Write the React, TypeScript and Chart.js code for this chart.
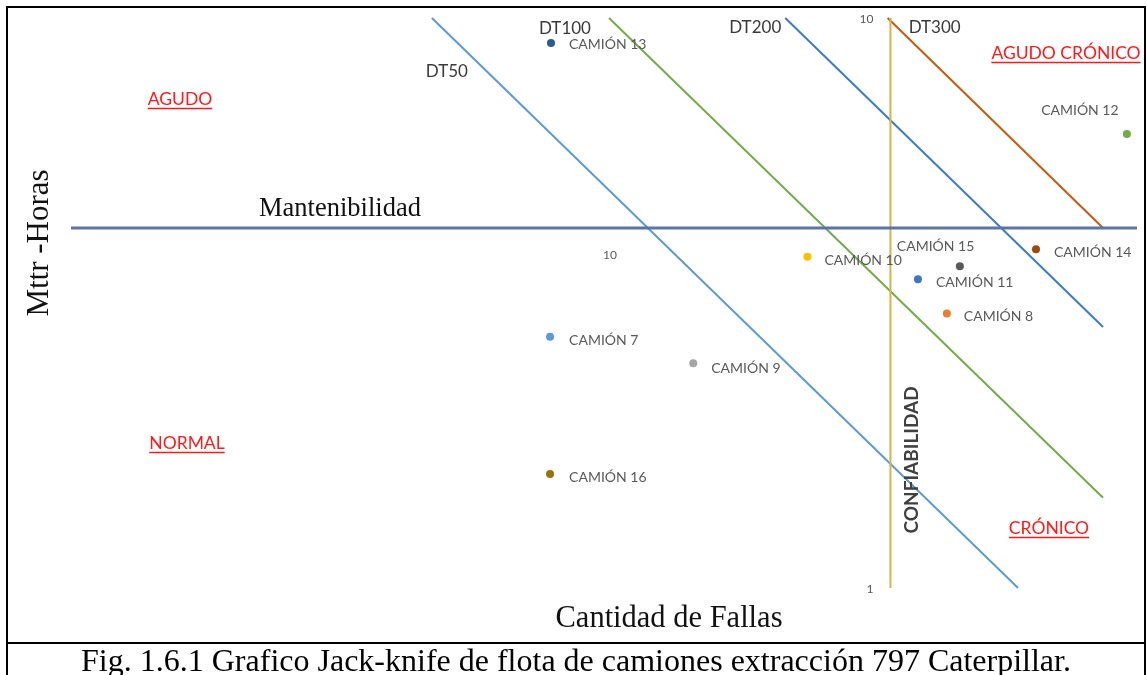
import React, { useEffect, useRef } from "react";
import { Chart, registerables } from "chart.js";

Chart.register(...registerables);

// ---------------- DATA ----------------
const trucks = ["CAMIÓN 13", "CAMIÓN 12", "CAMIÓN 10", "CAMIÓN 15", "CAMIÓN 11", "CAMIÓN 8", "CAMIÓN 14", "CAMIÓN 7", "CAMIÓN 9", "CAMIÓN 16"];
const failures = [7.88, 80.7, 22.2, 41.1, 34.7, 39.0, 55.9, 7.85, 14.0, 7.85];
const mttrHours = [9.04, 6.26, 3.81, 3.67, 3.48, 3.03, 3.93, 2.76, 2.48, 1.585];

const dtNames = ["DT50", "DT100", "DT200", "DT300"];
const dtStartX = [4.87, 9.96, 20.3, 30.7];
const dtStartY = [10, 10, 10, 10];
const dtEndX = [52.0, 73.3, 73.3, 73.3];
const dtEndY = [1.0, 1.44, 2.87, 4.28];

const mantenibilidadLimit = 4.28; // MTTR threshold (h)
const confiabilidadLimit = 31.05; // failures threshold

const yTicks = [10, 1];
const xTicks = [10];

const X_MIN = 1.1334;
const X_MAX = 84.07;
const Y_MIN = 1;
const Y_MAX = 10;

// ---------------- STYLES ----------------
const truckColors = ["#255e91", "#70ad47", "#ffc000", "#595959", "#4472c4", "#ed7d31", "#9e480e", "#5b9bd5", "#a5a5a5", "#997300"];
const dtColors = ["#5b9bd5", "#70ad47", "#3a7cc8", "#c55a11"];
// label offsets from point (px) and alignment
const labelDx = [18, -47, 17, -63, 18, 17, 18, 19, 18, 19];
const labelDy = [2, -23, 4, -20, 3, 3, 3, 4, 5, 4];
const labelAlign: CanvasTextAlign[] = ["left", "center", "left", "left", "left", "left", "left", "left", "left", "left"];
const dtLabelDx = [15, -44, -30, 47];
const dtLabelDy = [54, 11, 10, 10];

const SANS = "Lato, 'Open Sans', sans-serif";
const SERIF = "'Liberation Serif', 'Times New Roman', serif";
const RED = "#ff1a1a";

type FreeText = {
  text: string; x: number; y: number; font: string; color: string;
  align?: CanvasTextAlign; baseline?: CanvasTextBaseline; rotate?: number; underline?: boolean;
};
const freeTexts: FreeText[] = [
  { text: "AGUDO", x: 180, y: 99, font: `17.5px ${SANS}`, color: RED, align: "center", underline: true },
  { text: "AGUDO CRÓNICO", x: 1066, y: 53, font: `17.5px ${SANS}`, color: RED, align: "center", underline: true },
  { text: "NORMAL", x: 187, y: 443, font: `17.5px ${SANS}`, color: RED, align: "center", underline: true },
  { text: "CRÓNICO", x: 1049, y: 528, font: `17.5px ${SANS}`, color: RED, align: "center", underline: true },
  { text: "Mantenibilidad", x: 340, y: 216, font: `26.5px ${SERIF}`, color: "#111", align: "center", baseline: "alphabetic" },
  { text: "Cantidad de Fallas", x: 669, y: 627, font: `30.5px ${SERIF}`, color: "#111", align: "center", baseline: "alphabetic" },
  { text: "Mttr -Horas", x: 48, y: 243, font: `31px ${SERIF}`, color: "#111", align: "center", baseline: "alphabetic", rotate: -Math.PI / 2 },
  { text: "CONFIABILIDAD", x: 912, y: 460, font: `bold 19px ${SANS}`, color: "#404040", align: "center", rotate: -Math.PI / 2 },
];

const textPlugin = {
  id: "jkTexts",
  afterDatasetsDraw(chart: any) {
    const ctx: CanvasRenderingContext2D = chart.ctx;
    const xs = chart.scales.x;
    const ys = chart.scales.y;
    ctx.save();
    ctx.textBaseline = "middle";

    // truck labels
    ctx.font = `14px ${SANS}`;
    ctx.fillStyle = "#595959";
    trucks.forEach((t, i) => {
      const px = xs.getPixelForValue(failures[i]);
      const py = ys.getPixelForValue(mttrHours[i]);
      ctx.textAlign = labelAlign[i];
      ctx.fillText(t, px + labelDx[i], py + labelDy[i]);
    });

    // DT labels
    ctx.font = `17px ${SANS}`;
    ctx.fillStyle = "#3a3a3a";
    ctx.textAlign = "center";
    dtNames.forEach((n, i) => {
      const px = xs.getPixelForValue(dtStartX[i]);
      const py = ys.getPixelForValue(dtStartY[i]);
      ctx.fillText(n, px + dtLabelDx[i], py + dtLabelDy[i]);
    });

    // tick labels on the crossing axes
    ctx.font = `12px ${SANS}`;
    ctx.fillStyle = "#595959";
    ctx.textAlign = "right";
    const cx = xs.getPixelForValue(confiabilidadLimit);
    yTicks.forEach((v) => {
      ctx.fillText(String(v), cx - 17, ys.getPixelForValue(v) + 1);
    });
    ctx.textAlign = "center";
    const cy = ys.getPixelForValue(mantenibilidadLimit);
    xTicks.forEach((v) => {
      ctx.fillText(String(v), xs.getPixelForValue(v), cy + 27);
    });

    // free texts
    freeTexts.forEach((ft) => {
      ctx.save();
      ctx.translate(ft.x, ft.y);
      if (ft.rotate) ctx.rotate(ft.rotate);
      ctx.font = ft.font;
      ctx.fillStyle = ft.color;
      ctx.textAlign = ft.align || "left";
      ctx.textBaseline = ft.baseline || "middle";
      ctx.fillText(ft.text, 0, 0);
      if (ft.underline) {
        const w = ctx.measureText(ft.text).width;
        const x0 = ft.align === "center" ? -w / 2 : 0;
        ctx.strokeStyle = ft.color;
        ctx.lineWidth = 1.5;
        ctx.beginPath();
        ctx.moveTo(x0, 9.5);
        ctx.lineTo(x0 + w, 9.5);
        ctx.stroke();
      }
      ctx.restore();
    });
    ctx.restore();
  },
};

export default function App() {
  const canvasRef = useRef<HTMLCanvasElement | null>(null);

  useEffect(() => {
    const canvas = canvasRef.current;
    if (!canvas) return;

    const datasets: any[] = [
      {
        type: "scatter",
        label: "Camiones",
        data: trucks.map((_, i) => ({ x: failures[i], y: mttrHours[i] })),
        pointBackgroundColor: truckColors,
        pointBorderWidth: 0,
        pointRadius: 4,
        clip: false,
      },
      {
        type: "scatter",
        label: "Mantenibilidad",
        data: [{ x: X_MIN, y: mantenibilidadLimit }, { x: X_MAX, y: mantenibilidadLimit }],
        showLine: true,
        borderColor: "#5a74a8",
        borderWidth: 3,
        pointRadius: 0,
        clip: false,
      },
      {
        type: "scatter",
        label: "Confiabilidad",
        data: [{ x: confiabilidadLimit, y: Y_MIN }, { x: confiabilidadLimit, y: Y_MAX }],
        showLine: true,
        borderColor: "#d8b24c",
        borderWidth: 2,
        pointRadius: 0,
        clip: false,
      },
      ...dtNames.map((n, i) => ({
        type: "scatter",
        label: n,
        data: [{ x: dtStartX[i], y: dtStartY[i] }, { x: dtEndX[i], y: dtEndY[i] }],
        showLine: true,
        borderColor: dtColors[i],
        borderWidth: 2,
        pointRadius: 0,
        clip: false,
      })),
    ];

    const chart = new Chart(canvas, {
      type: "scatter",
      data: { datasets },
      options: {
        responsive: false,
        animation: false,
        devicePixelRatio: 1,
        events: [],
        layout: { padding: { left: 71, right: 10, top: 18, bottom: 87 } },
        plugins: { legend: { display: false }, tooltip: { enabled: false }, title: { display: false } },
        scales: {
          x: { type: "logarithmic", min: X_MIN, max: X_MAX, bounds: "data", display: false },
          y: { type: "logarithmic", min: Y_MIN, max: Y_MAX, bounds: "data", display: false },
        },
      },
      plugins: [textPlugin],
    });
    return () => chart.destroy();
  }, []);

  return (
    <div style={{ position: "absolute", left: 0, top: 0, width: 1147, height: 675, overflow: "hidden", background: "#fff" }}>
      <canvas ref={canvasRef} width={1147} height={675} style={{ position: "absolute", left: 0, top: 0, width: 1147, height: 675 }} />
      <div style={{ position: "absolute", left: 6, top: 6, width: 1140, height: 720, border: "2px solid #000", boxSizing: "border-box", pointerEvents: "none" }} />
      <div style={{ position: "absolute", left: 6, top: 642, width: 1140, height: 2, background: "#000" }} />
      <div
        style={{
          position: "absolute", left: 6, top: 644, width: 1140, textAlign: "center",
          fontFamily: SERIF, fontSize: 32, lineHeight: "32px", color: "#000", whiteSpace: "nowrap",
        }}
      >
        Fig. 1.6.1 Grafico Jack-knife de flota de camiones extracción 797 Caterpillar.
      </div>
    </div>
  );
}
